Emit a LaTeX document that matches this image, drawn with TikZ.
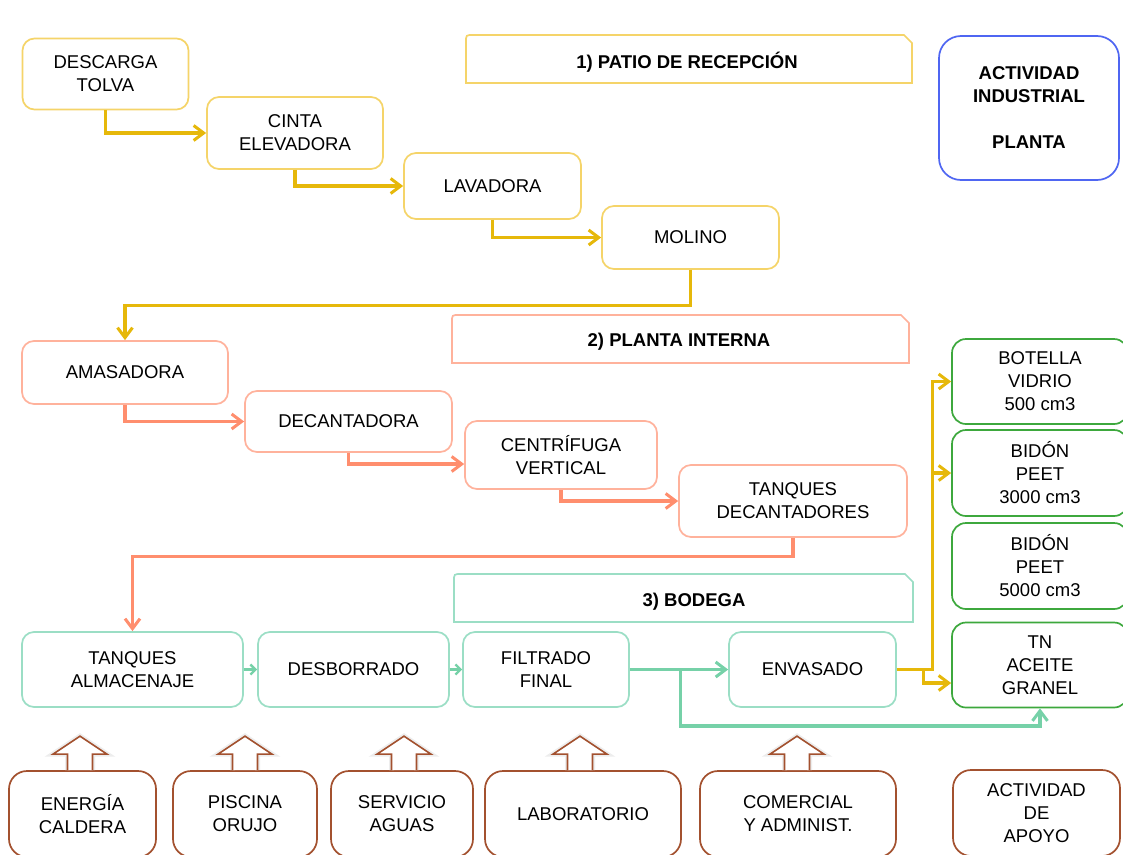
\documentclass[tikz,border=0pt]{standalone}
\usepackage{fontspec}
\setmainfont{Liberation Sans}
\usetikzlibrary{arrows.meta,calc}
\definecolor{yBox}{HTML}{F5D469}
\definecolor{yArr}{HTML}{E6B80A}
\definecolor{oBox}{HTML}{FFB29C}
\definecolor{oArr}{HTML}{FF8E6E}
\definecolor{gBox}{HTML}{9BDEC5}
\definecolor{gArr}{HTML}{76D1A8}
\definecolor{pBox}{HTML}{3DA83D}
\definecolor{bBox}{HTML}{4F66F2}
\definecolor{brBox}{HTML}{A3512F}
\tikzset{
  box/.style={draw, rounded corners=12, line width=1.7, align=center, inner sep=0pt,
    font=\fontsize{18.5}{23}\selectfont, fill=white},
  ybox/.style={box, draw=yBox},
  obox/.style={box, draw=oBox},
  gbox/.style={box, draw=gBox},
  pbox/.style={box, draw=pBox, rounded corners=14},
  brbox/.style={box, draw=brBox, rounded corners=18},
  conn/.style={line width=3.1, -{Straight Barb[length=10pt,width=15pt,line width=3pt]}},
  yarr/.style={conn, draw=yArr},
  oarr/.style={conn, draw=oArr},
  garr/.style={conn, draw=gArr},
  gsmall/.style={line width=2.4, draw=gArr, -{Straight Barb[length=5pt,width=10pt,line width=2.4pt]}},
  banner/.style={line width=1.7, fill=white},
  btext/.style={font=\bfseries\fontsize{18.5}{23}\selectfont, inner sep=0pt},
  hollow/.style={draw=brBox, line width=1.6, fill=white, line join=miter,
    preaction={draw=black!7, line width=5}}
}
\begin{document}
\begin{tikzpicture}[x=1pt,y=-1pt]
\useasboundingbox (0,0) rectangle (1123,854);
\fill[white] (0,0) rectangle (1123,854);

% banners
\draw[banner, draw=yBox] (466,83) -- (466,42) .. controls (466,35) .. (473,35) -- (904,35) -- (912,43) -- (912,83) -- cycle;
\node[btext] (b1) at (687,62) {1) PATIO DE RECEPCIÓN};
\draw[banner, draw=oBox] (452,363) -- (452,322) .. controls (452,315) .. (459,315) -- (901,315) -- (909,323) -- (909,363) -- cycle;
\node[btext] (b2) at (679,342) {2) PLANTA INTERNA};
\draw[banner, draw=gBox] (454,622) -- (454,581) .. controls (454,574) .. (461,574) -- (905,574) -- (913,582) -- (913,622) -- cycle;
\node[btext] (b3) at (694,602) {3) BODEGA};

% activity box
\node[box, draw=bBox, rounded corners=22, minimum width=180, minimum height=144, font=\bfseries\fontsize{18.5}{23}\selectfont] (act) at (1029,108) {ACTIVIDAD\\INDUSTRIAL\\[23pt]PLANTA};

% yellow nodes
\node[ybox, minimum width=166, minimum height=71] (desc) at (105.5,74) {DESCARGA\\TOLVA};
\node[ybox, minimum width=176, minimum height=72] (cinta) at (295,133) {CINTA\\ELEVADORA};
\node[ybox, minimum width=177, minimum height=66] (lav) at (492.5,186) {LAVADORA};
\node[ybox, minimum width=177, minimum height=63] (mol) at (690.5,237.5) {MOLINO};

% orange nodes
\node[obox, minimum width=206, minimum height=63] (amas) at (125,372.5) {AMASADORA};
\node[obox, minimum width=207, minimum height=61] (dec) at (348.5,421.5) {DECANTADORA};
\node[obox, minimum width=192, minimum height=68] (cent) at (561,455) {CENTRÍFUGA\\VERTICAL};
\node[obox, minimum width=228, minimum height=72] (tdec) at (793,501) {TANQUES\\DECANTADORES};

% green nodes
\node[gbox, minimum width=221, minimum height=75] (talm) at (132.5,669.5) {TANQUES\\ALMACENAJE};
\node[gbox, minimum width=191, minimum height=75] (desb) at (353.5,669.5) {DESBORRADO};
\node[gbox, minimum width=166, minimum height=75] (filt) at (546,669.5) {FILTRADO\\FINAL};
\node[gbox, minimum width=167, minimum height=75] (env) at (812.5,669.5) {ENVASADO};

% products
\node[pbox, minimum width=176, minimum height=85] (bot) at (1040,381.5) {BOTELLA\\VIDRIO\\500 cm3};
\node[pbox, minimum width=176, minimum height=86] (b3k) at (1040,473) {BIDÓN\\PEET\\3000 cm3};
\node[pbox, minimum width=176, minimum height=86] (b5k) at (1040,566) {BIDÓN\\PEET\\5000 cm3};
\node[pbox, minimum width=176, minimum height=85] (tn) at (1040,665) {TN\\ACEITE\\GRANEL};

% support
\node[brbox, minimum width=147, minimum height=86] (ene) at (82.5,814) {ENERGÍA\\CALDERA};
\node[brbox, minimum width=144, minimum height=86] (pis) at (245,814) {PISCINA\\ORUJO};
\node[brbox, minimum width=142, minimum height=86] (ser) at (402,814) {SERVICIO\\AGUAS};
\node[brbox, minimum width=196, minimum height=86] (lab) at (583,814) {LABORATORIO};
\node[brbox, minimum width=196, minimum height=86] (com) at (798,814) {COMERCIAL\\Y ADMINIST.};
\node[brbox, minimum width=167, minimum height=86] (apo) at (1036.5,813) {ACTIVIDAD\\DE\\APOYO};

% hollow arrows
\foreach \n/\dx in {ene/-2.5, pis/0, ser/2, lab/-3, com/-1}{
  \draw[hollow] ($(\n.north)+(\dx,0)$) ++(-12.5,0) -- ++(0,-16) -- ++(-14.5,0) -- ++(27,-18) -- ++(27,18) -- ++(-14.5,0) -- ++(0,16);
}

% yellow connectors
\draw[yarr] (desc.south) |- (cinta.west);
\draw[yarr] (cinta.south) |- (lav.west);
\draw[yarr] (lav.south) |- (mol.west);
\draw[yarr] (mol.south) -- ++(0,36) -| (amas.north);

% orange connectors
\draw[oarr] (amas.south) |- (dec.west);
\draw[oarr] (dec.south) |- ($(cent.west)+(0,9)$);
\draw[oarr] (cent.south) |- (tdec.west);
\draw[oarr] (tdec.south) -- ++(0,19) -| (talm.north);

% green connectors
\draw[gsmall] (talm.east) -- (desb.west);
\draw[gsmall] (desb.east) -- (filt.west);
\draw[garr] (filt.east) -- (env.west);
\coordinate (br) at ($(filt.east)+(51,0)$);
\draw[garr] (br) -- ++(0,56.5) -| (tn.south);

% yellow to products
\draw[yarr] (env.east) -- ++(36,0) |- (bot.west);
\draw[yarr] (env.east) -- ++(36,0) |- (b3k.west);
\draw[yarr] ($(env.east)+(27,0)$) |- ($(tn.west)+(0,18)$);
\end{tikzpicture}
\end{document}
